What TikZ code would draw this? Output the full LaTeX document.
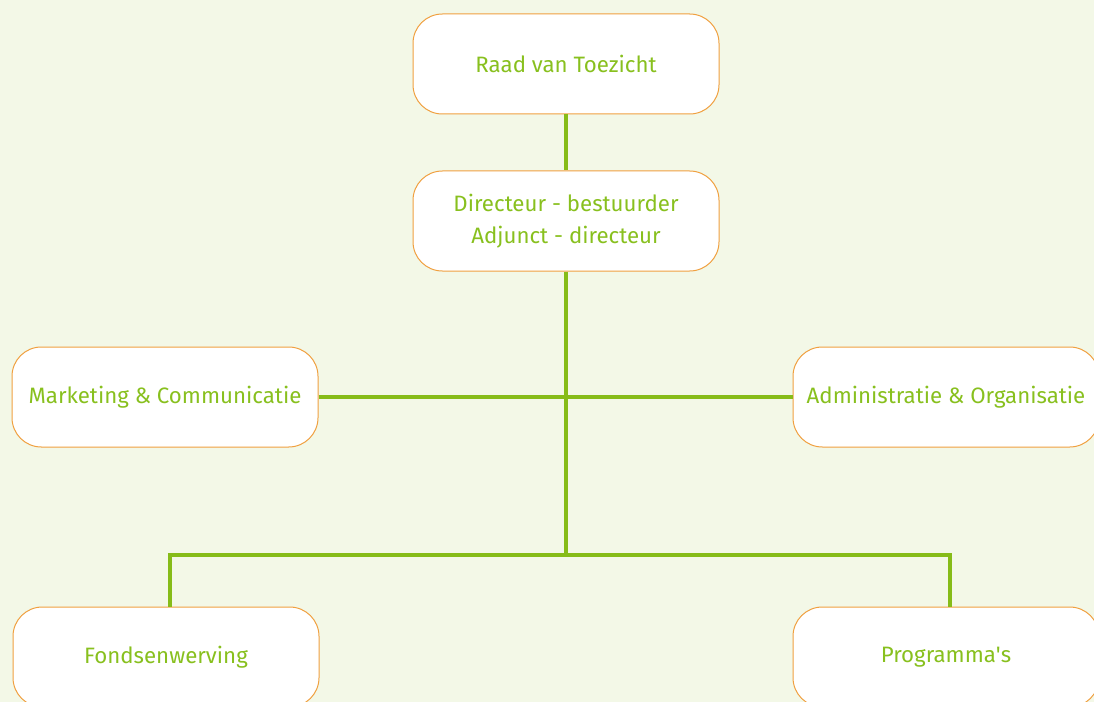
\documentclass[tikz,border=0pt]{standalone}
\usepackage{fontspec}
\setmainfont{Fira Sans}
\definecolor{bgGreen}{RGB}{243,248,231}
\definecolor{lineGreen}{RGB}{134,188,24}
\definecolor{textGreen}{RGB}{136,192,30}
\definecolor{boxOrange}{RGB}{240,160,64}
\tikzset{
  unitbox/.style={draw=boxOrange, line width=0.75pt, fill=white, rounded corners=22pt,
    minimum width=229.5pt, minimum height=75pt, inner sep=0pt, align=center,
    text=textGreen, font=\fontsize{16.7}{24}\selectfont},
  link/.style={draw=lineGreen, line width=3pt}
}
\begin{document}
\begin{tikzpicture}[x=0.75pt,y=0.75pt,yscale=-1,xscale=1]
\useasboundingbox (0,0) rectangle (1094,702);
\clip (0,0) rectangle (1094,702);
%Shape: Rectangle [id:background]
\fill [bgGreen] (0,0) rectangle (1094,702);

% Text Node
\node [unitbox] (raad) at (566,64) {Raad van Toezicht};
% Text Node
\node [unitbox] (dir) at (566,221) {Directeur - bestuurder\\Adjunct - directeur};
% Text Node
\node [unitbox] (mark) at (165,397) {Marketing \& Communicatie};
% Text Node
\node [unitbox] (admin) at (946,397) {Administratie \& Organisatie};
% Text Node
\node [unitbox] (fonds) at (166,657) {Fondsenwerving};
% Text Node
\node [unitbox] (prog) at (946,657) {Programma\textquotesingle s};

%Straight Lines
\coordinate (split) at (566,555);
\draw [link] (raad) -- (dir);
\draw [link] (dir) -- (split);
\draw [link] (mark) -- (admin);
%Straight Lines
\draw [link] ([xshift=3pt]fonds.north) -- ([xshift=3pt]fonds.north |- split)
  -- ([xshift=3pt]prog.north |- split) -- ([xshift=3pt]prog.north);
\end{tikzpicture}
\end{document}
